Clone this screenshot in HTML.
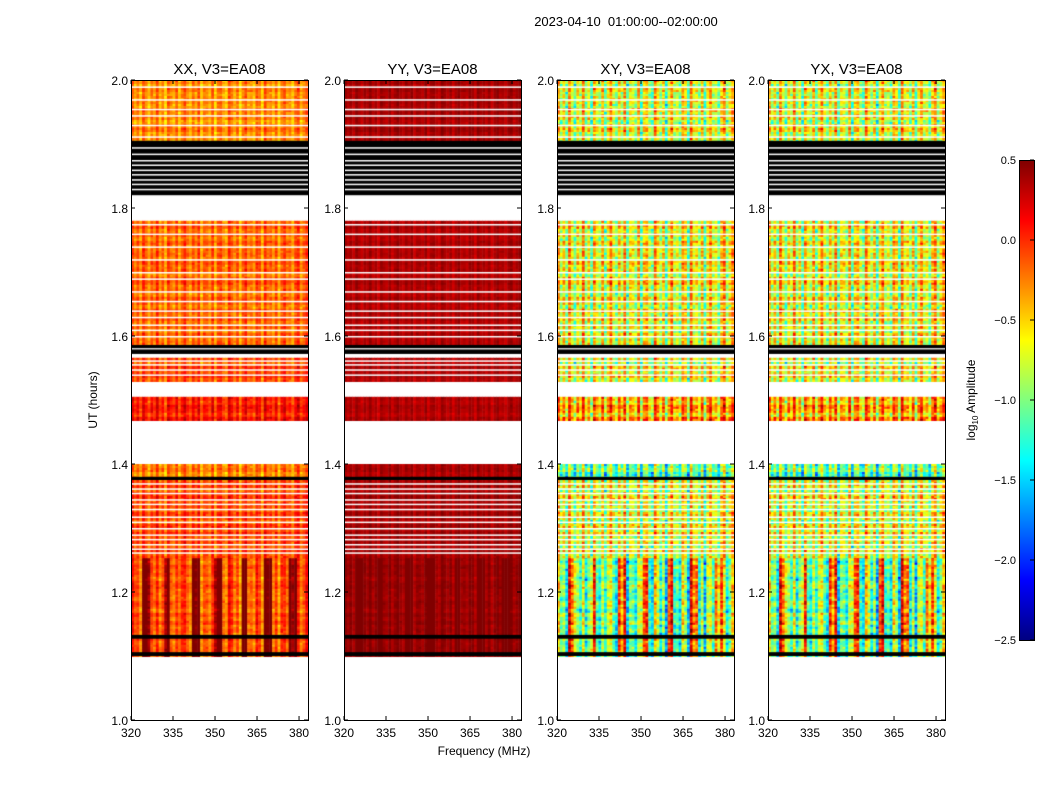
<!DOCTYPE html>
<html><head><meta charset="utf-8"><style>
body{margin:0;background:#fff;font-family:"Liberation Sans",sans-serif;}
#root{position:relative;width:1050px;height:800px;overflow:hidden;background:#fff}
canvas{position:absolute}
</style></head><body>
<div id="root">
<svg id="svg" width="1050" height="800" style="position:absolute;left:0;top:0"></svg>
</div>
<script>
// ---- data ----
const panelTitles = ["XX, V3=EA08","YY, V3=EA08","XY, V3=EA08","YX, V3=EA08"];
const xTicks = [320,335,350,365,380];
const yTicks = [1.0,1.2,1.4,1.6,1.8,2.0];
const cbTicks = [0.5,0.0,-0.5,-1.0,-1.5,-2.0,-2.5];
const dataSegments = [[1.10,1.255],[1.255,1.375],[1.38,1.40],[1.47,1.505],[1.53,1.566],[1.585,1.78],[1.905,2.0]];
const flagSegments = [[1.10,1.106],[1.127,1.133],[1.375,1.38],[1.572,1.579],[1.581,1.586],[1.82,1.905]];
const whiteLines = [1.262,1.268,1.275,1.283,1.29,1.30,1.31,1.318,1.33,1.338,1.345,1.355,1.362,1.37,1.54,1.548,1.556,1.562,
 1.60,1.61,1.618,1.63,1.64,1.655,1.67,1.69,1.70,1.72,1.74,1.76,1.775,1.912,1.93,1.945,1.955,1.97,1.99,
 1.83,1.838,1.845,1.853,1.86,1.868,1.875,1.885,1.895];
const baseXX = [-0.05,-0.1,-0.3,0.05,-0.1,-0.2,-0.3];
const baseYY = [0.42,0.38,0.35,0.35,0.35,0.35,0.38];
const baseXY = [-0.9,-0.75,-1.2,-0.4,-0.7,-0.7,-0.75];
const baseYX = [-0.9,-0.75,-1.2,-0.4,-0.7,-0.7,-0.75];
const colSpread = [0.3,0.12,0.7,0.7];
const colPattern = [0.8,-0.3,0.5,-0.6,0.9,0.1,-0.8,0.4,-0.2,1.0,-0.5,0.3,-0.9,0.6,0.0,-0.4,0.7,-0.7,0.2,0.95,-0.1,-0.6,0.5,-0.3,0.85,-0.8,0.3,0.1,-0.5,0.7,-0.9,0.4,
 0.6,-0.2,-0.7,0.9,0.2,-0.4,0.5,-1.0,0.3,0.8,-0.3,0.0,-0.6,0.7,0.4,-0.8,0.9,-0.1,0.2,-0.5,0.6,-0.9,0.3,0.75,-0.2,0.1,-0.7,0.5,0.95,-0.4,0.2,0.8];
const rowPattern = [0.2,-0.5,0.7,-0.1,0.4,-0.8,0.3,0.9,-0.3,0.0,-0.6,0.5,0.1,-0.9,0.6,-0.2,0.8,-0.4,0.3,-0.7,0.55,-0.35,0.05];
const stripeFreqs = [325.5,333,343,351,360.5,369,378];
const cols = 64, fMin = 320, fMax = 383.2;

// ---- layout ----
const panelsX = [131,344,557,768], pW = 177, pTop = 80, pH = 640;
const bases = [baseXX,baseYY,baseXY,baseYX];
const svg = document.getElementById('svg');
const NS = "http://www.w3.org/2000/svg";
function yOf(t){return pTop + (2.0 - t)*pH;}
function jet(v){
  const r=Math.min(1,Math.max(0,1.5-Math.abs(4*v-3)));
  const g=Math.min(1,Math.max(0,1.5-Math.abs(4*v-2)));
  const b=Math.min(1,Math.max(0,1.5-Math.abs(4*v-1)));
  return `rgb(${Math.round(r*255)},${Math.round(g*255)},${Math.round(b*255)})`;
}
function norm(v){return Math.min(1,Math.max(0,(v+2.5)/3));}
function txt(x,y,s,anchor,name,size){
  const e=document.createElementNS(NS,'text');
  e.setAttribute('x',x);e.setAttribute('y',y);e.setAttribute('font-size',size||13);
  e.setAttribute('text-anchor',anchor||'middle');e.setAttribute('font-family','Liberation Sans, sans-serif');
  e.setAttribute('style','white-space:pre');
  e.textContent=s;
  
  
  svg.appendChild(e);return e;
}
function line(x1,y1,x2,y2,name){
  const e=document.createElementNS(NS,'line');
  e.setAttribute('x1',x1);e.setAttribute('y1',y1);e.setAttribute('x2',x2);e.setAttribute('y2',y2);
  e.setAttribute('stroke','#000');e.setAttribute('stroke-width',1);
  
  
  svg.appendChild(e);
}
const root=document.getElementById('root');
const RL=rowPattern.length;
panelsX.forEach((px,p)=>{
  const cv=document.createElement('canvas');
  cv.width=pW;cv.height=pH;cv.style.left=px+'px';cv.style.top=pTop+'px';
  
  
  root.insertBefore(cv,svg);
  const ctx=cv.getContext('2d');
  const cw=pW/cols;
  dataSegments.forEach((seg,si)=>{
    const y0=yOf(seg[1])-pTop, y1=yOf(seg[0])-pTop;
    for(let r=0;r*2<y1-y0;r++){
      for(let c=0;c<cols;c++){
        const f=fMin+(c+0.5)*(fMax-fMin)/cols;
        let v=bases[p][si]+0.75*colSpread[p]*colPattern[c]
          +0.6*colSpread[p]*colPattern[(c*7+r*3)%cols]*rowPattern[(r*5+c*3)%RL]
          +0.35*colSpread[p]*rowPattern[Math.floor(r/2+si*3)%RL];
        if(si===0){
          let d=Math.min(...stripeFreqs.map(s=>Math.abs(s-f)));
          if(d<1.3) v+=0.6; else if(d<4 && p!==1) v-=0.12*(p>1?2:1);
        }
        ctx.fillStyle=jet(norm(v));
        ctx.fillRect(c*cw,y0+r*2,cw+0.5,2.2);
      }
    }
  });
  ctx.fillStyle='#000';
  flagSegments.forEach(s=>{const a=yOf(s[1])-pTop,b=yOf(s[0])-pTop;ctx.fillRect(0,a,pW,b-a);});
  ctx.fillStyle='#fff';
  whiteLines.forEach(t=>{ctx.fillRect(0,yOf(t)-pTop,pW,1.5);});
  const fr=document.createElementNS(NS,'rect');
  fr.setAttribute('x',px+0.5);fr.setAttribute('y',pTop+0.5);fr.setAttribute('width',pW);fr.setAttribute('height',pH);
  fr.setAttribute('fill','none');fr.setAttribute('stroke','#000');
  
  
  svg.appendChild(fr);
  txt(px+pW/2,74,panelTitles[p],'middle','panel-title',15);
  xTicks.forEach(f=>{
    const x=px+(f-fMin)/(fMax-fMin)*pW;
    line(x,pTop+pH,x,pTop+pH-4,'x-tick');line(x,pTop,x,pTop+4,'x-tick');
    txt(x,pTop+pH+17,String(f),'middle','x-tick-label',12);
  });
  yTicks.forEach(t=>{
    const y=yOf(t);
    line(px,y,px+4,y,'y-tick');line(px+pW,y,px+pW-4,y,'y-tick');
    txt(px-3,y+5,t.toFixed(1),'end','y-tick-label',12);
  });
});
txt(626,26,"2023-04-10  01:00:00--02:00:00",'middle','suptitle',13);
txt(484,755,"Frequency (MHz)",'middle','x-axis-title',12);
const yl=txt(0,0,"UT (hours)",'middle','y-axis-title',12);
yl.setAttribute('transform','translate(97,400) rotate(-90)');
const cbX=1019,cbT=160,cbH=480,cbW=15;
for(let i=0;i<cbH;i++){
  const r=document.createElementNS(NS,'rect');
  r.setAttribute('x',cbX);r.setAttribute('y',cbT+i);r.setAttribute('width',cbW);r.setAttribute('height',1.2);
  r.setAttribute('fill',jet(1-i/cbH));
  
  
  svg.appendChild(r);
}
const cf=document.createElementNS(NS,'rect');
cf.setAttribute('x',cbX+0.5);cf.setAttribute('y',cbT+0.5);cf.setAttribute('width',cbW);cf.setAttribute('height',cbH);
cf.setAttribute('fill','none');cf.setAttribute('stroke','#000');


svg.appendChild(cf);
cbTicks.forEach(v=>{
  const y=cbT+(0.5-v)/3*cbH;
  line(cbX+cbW-4,y,cbX+cbW,y,'colorbar-tick');
  txt(cbX-3,y+4,v.toFixed(1).replace('-','\u2212'),'end','colorbar-tick-label',11);
});
const cl=document.createElementNS(NS,'text');
cl.setAttribute('transform','translate(975,400) rotate(-90)');
cl.setAttribute('text-anchor','middle');cl.setAttribute('font-size',12);cl.setAttribute('font-family','Liberation Sans, sans-serif');
cl.innerHTML='log<tspan font-size="8" dy="3">10</tspan><tspan dy="-3"> Amplitude</tspan>';


svg.appendChild(cl);
</script>
</body></html>
